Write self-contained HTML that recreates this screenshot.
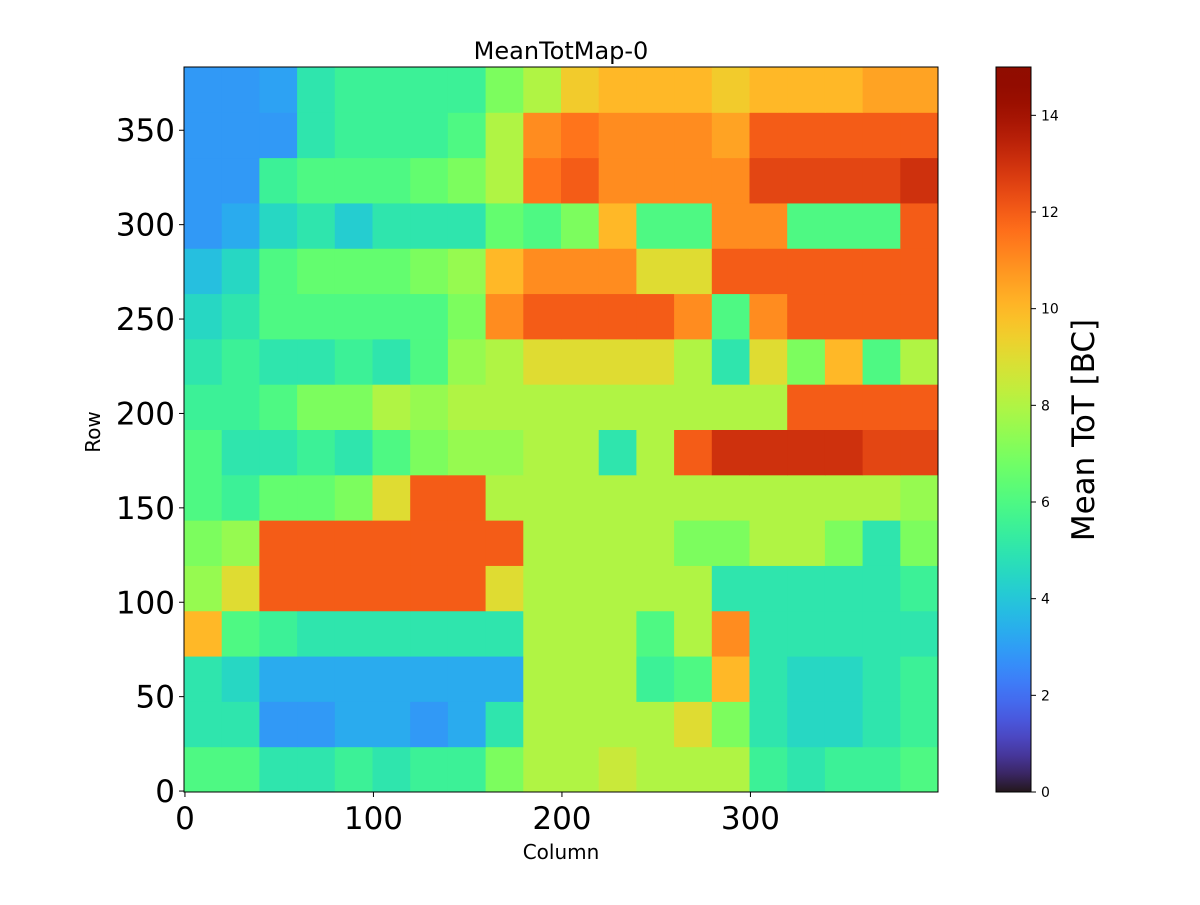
<!DOCTYPE html>
<html><head><meta charset="utf-8"><style>
body{margin:0;background:#fff;}
svg text{font-family:"DejaVu Sans","Liberation Sans",sans-serif;fill:#000;}
</style></head><body>
<svg id="fig" width="1200" height="900" xmlns="http://www.w3.org/2000/svg">
<defs><clipPath id="pc"><rect x="184" y="67" width="754" height="725"/></clipPath>
<linearGradient id="cbg" x1="0" y1="1" x2="0" y2="0"></linearGradient></defs>
<rect width="1200" height="900" fill="#fff"/>
<text x="561" y="59" font-size="24" text-anchor="middle">MeanTotMap-0</text>
<g id="cells" clip-path="url(#pc)"></g>
<rect x="184" y="67" width="754" height="725" fill="none" stroke="#000" stroke-width="1"/>
<g id="xt"></g>
<g id="yt"></g>
<text x="561" y="859" font-size="20" text-anchor="middle">Column</text>
<text transform="translate(100,432) rotate(-90)" font-size="20" text-anchor="middle">Row</text>
<rect x="996" y="67" width="35" height="725" fill="url(#cbg)" stroke="#000" stroke-width="1"/>
<g id="ct"></g>
<text transform="translate(1094,430) rotate(-90)" font-size="31" text-anchor="middle">Mean ToT [BC]</text>
</svg>
<script>
const xTicks=[0,100,200,300];
const yTicks=[0,50,100,150,200,250,300,350];
const cTicks=[0,2,4,6,8,10,12,14];
const nCols=400, nRows=384, blockC=20, blockR=24;
// rows listed bottom (row 0-24) to top (row 360-384), 20 column blocks each
const grid0=[6,6,5,5,5.5,5,5.5,5.5,7,8,8,8.5,8,8,8,5.5,5,5.5,5.5,6];
const grid1=[5,5,2.9,2.9,3.3,3.3,2.9,3.3,5,8,8,8,8,9,7,5,4.5,4.5,5,5.5];
const grid2=[5,4.5,3.3,3.3,3.3,3.3,3.3,3.3,3.3,8,8,8,5.5,6,10,5,4.5,4.5,5,5.5];
const grid3=[10,6,5.5,5,5,5,5,5,5,8,8,8,6,8,11,5,5,5,5,5];
const grid4=[7.5,9,12,12,12,12,12,12,9,8,8,8,8,8,5,5,5,5,5,5.5];
const grid5=[7,7.5,12,12,12,12,12,12,12,8,8,8,8,7,7,8,8,7,5,7];
const grid6=[6,5.5,6.5,6.5,7,9,12,12,8,8,8,8,8,8,8,8,8,8,8,7.5];
const grid7=[6,5,5,5.5,5,6,7,7.5,7.5,8,8,5,8,12,13,13,13,13,12.5,12.5];
const grid8=[5.5,5.5,6,7,7,8,7.5,8,8,8,8,8,8,8,8,8,12,12,12,12];
const grid9=[5,5.5,5,5,5.5,5,6,7.5,8,9,9,9,9,8,5,9,7,10,6,8];
const grid10=[4.5,5,6,6,6,6,6,7,11,12,12,12,12,11,6,11,12,12,12,12];
const grid11=[3.8,4.5,6,6.5,6.5,6.5,7,7.5,10,11,11,11,9,9,12,12,12,12,12,12];
const grid12=[2.9,3.3,4.5,5,4.2,5,5,5,6.5,6,7,10,6,6,11,11,6,6,6,12];
const grid13=[2.9,2.9,5.5,6,6,6,6.5,7,8,11.5,12,11,11,11,11,12.5,12.5,12.5,12.5,13];
const grid14=[2.9,2.9,2.9,5,5.5,5.5,5.5,6,8,11,11.5,11,11,11,10.5,12,12,12,12,12];
const grid15=[2.9,2.9,3.1,5,5.5,5.5,5.5,5.5,7,8,9.5,10,10,10,9.5,10,10,10,10.5,10.5];
const grid=[grid0,grid1,grid2,grid3,grid4,grid5,grid6,grid7,grid8,grid9,grid10,grid11,grid12,grid13,grid14,grid15];
const vmin=0,vmax=15;
const NS="http://www.w3.org/2000/svg";
const L=184,R=938,T=67,B=792;
const xs=c=>L+(c+0.5)*(R-L)/nCols;
const ys=r=>B-(r+0.5)*(B-T)/nRows;
const cy=v=>B-(v-vmin)/(vmax-vmin)*(B-T);
function turbo(x){x=Math.max(0,Math.min(1,x));
 const r=0.13572138+x*(4.61539260+x*(-42.66032258+x*(132.13108234+x*(-152.94239396+x*59.28637943))));
 const g=0.09140261+x*(2.19418839+x*(4.84296658+x*(-14.18503333+x*(4.27729857+x*2.82956604))));
 const b=0.10667330+x*(12.64194608+x*(-60.58204836+x*(110.36276771+x*(-89.90310912+x*27.34824973))));
 const f=v=>Math.round(255*Math.max(0,Math.min(1,v)));
 return `rgb(${f(r)},${f(g)},${f(b)})`;}
function mk(tag,attrs,parent){const e=document.createElementNS(NS,tag);for(const k in attrs)e.setAttribute(k,attrs[k]);parent.appendChild(e);return e;}
const cells=document.getElementById('cells');
grid.forEach((row,ri)=>{row.forEach((v,ci)=>{
 const x0=xs(ci*blockC-0.5),x1=xs((ci+1)*blockC-0.5),y0=ys((ri+1)*blockR-0.5),y1=ys(ri*blockR-0.5);
 const e=mk('rect',{x:x0,y:y0,width:x1-x0+0.5,height:y1-y0+0.5,fill:turbo((v-vmin)/(vmax-vmin))},cells);
 
 
});});
const xt=document.getElementById('xt');
xTicks.forEach(t=>{const x=xs(t);
 mk('line',{x1:x,x2:x,y1:B,y2:B+5,stroke:'#000'},xt);
 const e=mk('text',{x:x,y:B+37,'font-size':31,'text-anchor':'middle'},xt);e.textContent=t;
 
 });
const yt=document.getElementById('yt');
yTicks.forEach(t=>{const y=ys(t);
 mk('line',{x1:L-5,x2:L,y1:y,y2:y,stroke:'#000'},yt);
 const e=mk('text',{x:L-9,y:y+11,'font-size':31,'text-anchor':'end'},yt);e.textContent=t;
 
 });
const g=document.getElementById('cbg');
for(let i=0;i<=40;i++){mk('stop',{offset:(i/40),'stop-color':turbo(i/40)},g);}
const ct=document.getElementById('ct');
cTicks.forEach(t=>{const y=cy(t);
 mk('line',{x1:1031,x2:1036,y1:y,y2:y,stroke:'#000'},ct);
 const e=mk('text',{x:1041,y:y+5,'font-size':14},ct);e.textContent=t;
 
 });
</script>
</body></html>
